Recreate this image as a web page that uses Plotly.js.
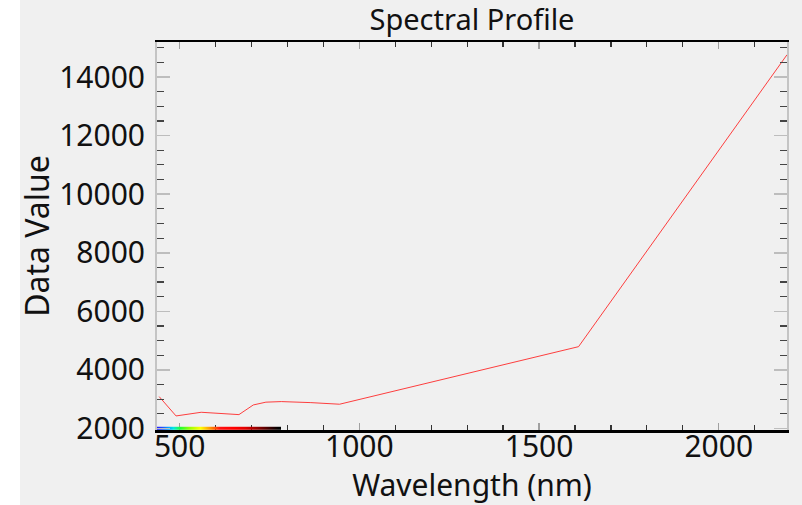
<!DOCTYPE html>
<html>
<head>
<meta charset="utf-8">
<script src="https://cdn.plot.ly/plotly-3.0.1.min.js"></script>
<style>
  html, body { margin: 0; padding: 0; background: #f0f0f0; }
  #chart { width: 802px; height: 505px; }
</style>
</head>
<body>
<div id="chart"></div>
<script>
// Spectral profile data (Sentinel-2 band centres, nm) and values
const wavelengths = [443, 490, 560, 665, 705, 740, 783, 842, 865, 945, 1610, 2190];
const dataValues  = [3090, 2430, 2555, 2475, 2805, 2900, 2920, 2900, 2885, 2830, 4795, 14760];

// Visible-spectrum colour strip along the wavelength axis
const spectrumNm     = [437, 452, 468, 482, 500, 530, 556, 584, 611, 650, 681, 709, 735, 760, 775];
const spectrumColors = ['#2020ff', '#2050ff', '#00a8ff', '#00e8e0', '#20ff30', '#a0ff00', '#ffff00',
                        '#ff9000', '#ff1010', '#ff0000', '#e00000', '#a00000', '#600000', '#200000', '#000000'];

const xTickVals = [500, 1000, 1500, 2000];
const yTickVals = [2000, 4000, 6000, 8000, 10000, 12000, 14000];

const nmMin = spectrumNm[0], nmMax = spectrumNm[spectrumNm.length - 1];
const specScale = spectrumNm.map((v, i) => [(v - nmMin) / (nmMax - nmMin), spectrumColors[i]]);

const spectrumTrace = {
  type: 'heatmap',
  x: spectrumNm,
  y: [1985, 2035],
  z: [spectrumNm, spectrumNm],
  zmin: nmMin, zmax: nmMax,
  colorscale: specScale,
  zsmooth: 'best',
  showscale: false,
  hoverinfo: 'skip'
};

const profileTrace = {
  type: 'scatter',
  mode: 'lines',
  x: wavelengths,
  y: dataValues,
  line: { color: 'rgba(255,30,30,0.85)', width: 1 },
  hoverinfo: 'x+y'
};

const FONT = '"Noto Sans", "Open Sans", sans-serif';

const layout = {
  width: 802, height: 505,
  margin: { l: 157, r: 15, t: 42, b: 75 },
  paper_bgcolor: '#f0f0f0',
  plot_bgcolor: '#f0f0f0',
  showlegend: false,
  font: { family: FONT, color: '#000' },
  title: {
    text: 'Spectral Profile',
    font: { family: FONT, size: 29, color: '#111' },
    x: 0.5, xref: 'paper', xanchor: 'center',
    y: 0.96, yref: 'container', yanchor: 'middle'
  },
  xaxis: {
    range: [437, 2190],
    showgrid: false, zeroline: false,
    showline: true, linecolor: '#000', linewidth: 2.5,
    layer: 'below traces',
    ticks: 'inside', ticklen: 7, tickcolor: '#a0a0a0', tickwidth: 1.5,
    tickmode: 'array', tickvals: xTickVals, ticktext: xTickVals.map(String),
    minor: { dtick: 100, tick0: 0, ticks: 'inside', ticklen: 5, tickcolor: '#333', tickwidth: 1.2 },
    mirror: 'ticks',
    tickfont: { family: FONT, size: 30, color: '#111' },
    ticklabelstandoff: -12,
    automargin: false,
    title: { text: 'Wavelength (nm)', font: { family: FONT, size: 30, color: '#111' }, standoff: 16 }
  },
  yaxis: {
    range: [1950, 15195],
    showgrid: false, zeroline: false,
    showline: true, linecolor: '#c4c4c4', linewidth: 2,
    ticks: 'inside', ticklen: 13, tickcolor: '#bdbdbd', tickwidth: 1.5,
    tickmode: 'array', tickvals: yTickVals, ticktext: yTickVals.map(String),
    minor: { dtick: 500, tick0: 0, ticks: 'inside', ticklen: 7, tickcolor: '#444', tickwidth: 1.2 },
    mirror: 'ticks',
    tickfont: { family: FONT, size: 30, color: '#111' },
    ticklabelstandoff: 4,
    automargin: false,
    title: { text: 'Data Value', font: { family: FONT, size: 32, color: '#111' }, standoff: 0 }
  },
  shapes: [
    { type: 'rect', xref: 'paper', yref: 'paper', x0: -0.5, x1: -0.2175, y0: -0.5, y1: 1.5,
      fillcolor: '#ffffff', line: { width: 0 }, layer: 'below' }
  ]
};

Plotly.newPlot('chart', [spectrumTrace, profileTrace], layout, { staticPlot: true, displayModeBar: false });
</script>
</body>
</html>
